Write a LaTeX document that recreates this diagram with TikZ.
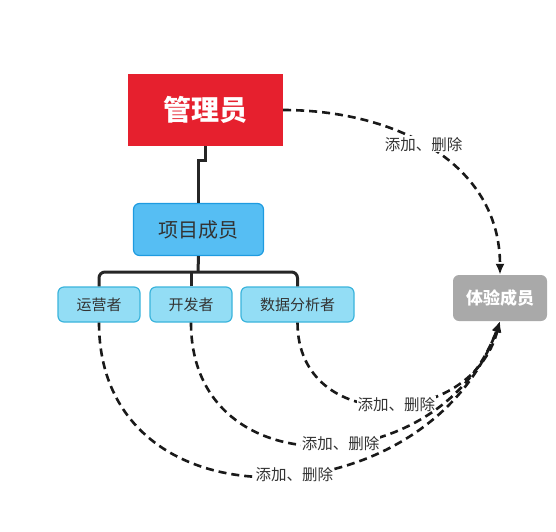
\documentclass[tikz,border=0pt]{standalone}
\usepackage{fontspec}
\setmainfont{Noto Sans CJK SC}
\usetikzlibrary{positioning, arrows.meta}

\definecolor{adminred}{HTML}{E6202E}
\definecolor{memberblue}{HTML}{56BEF3}
\definecolor{memberline}{HTML}{1E9BE0}
\definecolor{rolecyan}{HTML}{93DDF5}
\definecolor{roleline}{HTML}{3BB4DC}
\definecolor{trialgray}{HTML}{A9A9A9}
\definecolor{labelgray}{HTML}{333333}

\tikzset{
  admin/.style={fill=adminred, text=white, font=\fontsize{28}{30}\selectfont\bfseries,
    minimum width=155pt, minimum height=72pt, inner sep=0pt},
  member/.style={fill=memberblue, draw=memberline, line width=1.2pt, rounded corners=6pt,
    text=labelgray, font=\fontsize{20}{22}\selectfont,
    minimum width=130pt, minimum height=52pt, inner sep=0pt},
  role/.style={fill=rolecyan, draw=roleline, line width=1.2pt, rounded corners=6pt,
    text=labelgray, font=\fontsize{15}{17}\selectfont,
    minimum height=35pt, inner sep=0pt},
  trial/.style={fill=trialgray, text=white, rounded corners=6pt,
    font=\fontsize{17}{19}\selectfont\bfseries,
    minimum width=94pt, minimum height=46pt, inner sep=0pt},
  tree/.style={line width=3pt, black!85},
  op/.style={line width=2.6pt, dash pattern=on 8pt off 5pt, black!90,
    -{Latex[length=11pt, width=9pt]}},
  oplabel/.style={fill=white, text=labelgray, font=\fontsize{15.5}{17}\selectfont, inner sep=1pt}
}

\begin{document}
\begin{tikzpicture}[x=1pt, y=-1pt]

    \useasboundingbox (0,0) rectangle (556,531);

    \node[admin] (admin) at (205.5,110) {管理员};
    \node[member] (member) at (198.5,229.5) {项目成员};
    \node[role, minimum width=82pt] (ops) at (99,304.5) {运营者};
    \node[role, minimum width=82pt] (dev) at (191,304.5) {开发者};
    \node[role, minimum width=113pt] (analyst) at (297.5,304.5) {数据分析者};
    \node[trial] (trial) at (500,298) {体验成员};
    \coordinate (bar) at (198,272);

    \draw[tree] (admin.south) -- ++(0,14) -| (member.north);
    \draw[tree] (member.south) -- (bar);
    \draw[tree, rounded corners=6pt] (ops.north) |- (bar) -| (analyst.north);
    \draw[tree] (dev.north) -- (dev.north |- bar);

    \path[op]
    (admin.east) edge [out=0, in=90, looseness=1.05] node[oplabel, pos=0.46] {添加、删除} (trial.north)
    (analyst.south) edge [out=-90, in=-105, looseness=1.42] node[oplabel, pos=0.53] {添加、删除} (trial.south)
    (dev.south) edge [out=-90, in=-110, looseness=1.4] node[oplabel, pos=0.54] {添加、删除} (trial.south)
    (ops.south) edge [out=-90, in=-110, looseness=1.35] node[oplabel, pos=0.54] {添加、删除} (trial.south);

\end{tikzpicture}
\end{document}
